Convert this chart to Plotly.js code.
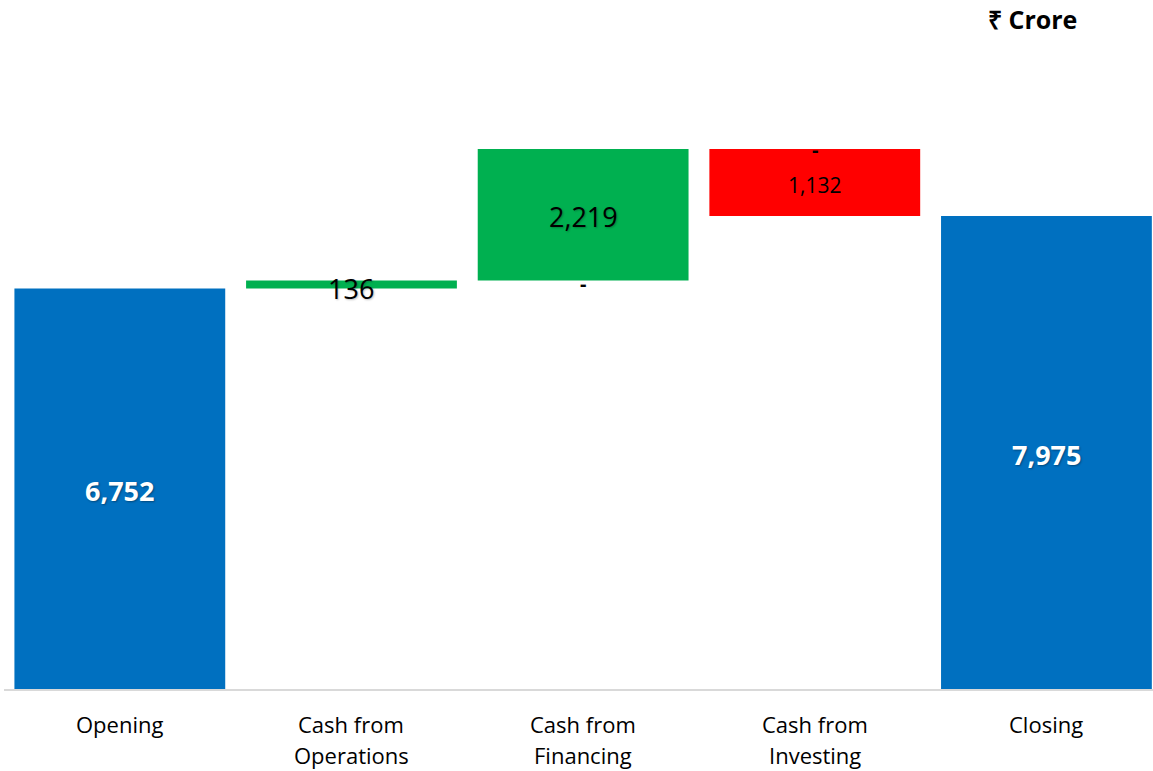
<!DOCTYPE html>
<html>
<head>
<meta charset="utf-8">
<script src="https://cdn.plot.ly/plotly-3.0.1.min.js"></script>
<style>html,body{margin:0;padding:0;background:#fff;}#chart{width:1153px;height:771px;}</style>
</head>
<body>
<div id="chart"></div>
<script>
// Data
const categories = ["Opening", "Cash from<br>Operations", "Cash from<br>Financing", "Cash from<br>Investing", "Closing"];
const values = [6752, 136, 2219, -1132, 7975];
const measures = ["absolute", "relative", "relative", "relative", "total"];
const labels = ["6,752", "136", "2,219", "1,132", "7,975"];
const dashLabels = ["-", "-"];          // zero-value markers shown by the source chart
const dashCategoryIdx = [2, 3];
const unitLabel = "₹ Crore";

// compute bar extents from data
const bottoms = [], tops = [];
let run = 0;
for (let i = 0; i < values.length; i++) {
  let a, b;
  if (measures[i] === "absolute") { a = 0; b = values[i]; run = values[i]; }
  else if (measures[i] === "total") { a = 0; b = run; }
  else { a = run; b = run + values[i]; run = b; }
  bottoms.push(Math.min(a, b)); tops.push(Math.max(a, b));
}

const labelFonts = [
  {family: "Open Sans", size: 27, color: "#ffffff", weight: 700, shadow: "1px 1px 2px rgba(0,0,0,0.35)"},
  {family: "Open Sans", size: 27, color: "#000000", shadow: "1px 1px 2px rgba(0,0,0,0.25)"},
  {family: "Open Sans", size: 27, color: "#000000", shadow: "1px 1px 2px rgba(0,0,0,0.25)"},
  {family: "Open Sans", size: 21, color: "#000000"},
  {family: "Open Sans", size: 27, color: "#ffffff", weight: 700, shadow: "1px 1px 2px rgba(0,0,0,0.35)"}
];

const annotations = labels.map((t, i) => ({
  x: categories[i], y: (bottoms[i] + tops[i]) / 2, xref: "x", yref: "y",
  text: t, showarrow: false, font: labelFonts[i], yshift: (i === 1 ? -4 : -2)
}));
// dash markers: below financing bar bottom, at investing bar top
annotations.push({x: categories[dashCategoryIdx[0]], y: bottoms[dashCategoryIdx[0]], xref: "x", yref: "y",
  text: dashLabels[0], showarrow: false, font: {family: "Open Sans", size: 20, color: "#000", weight: 700}, yshift: -3});
annotations.push({x: categories[dashCategoryIdx[1]], y: tops[dashCategoryIdx[1]], xref: "x", yref: "y",
  text: dashLabels[1], showarrow: false, font: {family: "Open Sans", size: 20, color: "#000", weight: 700}, yshift: -1});
// category labels (each line placed separately to match the source line spacing)
categories.forEach((c) => {
  c.split("<br>").forEach((line, j) => {
    annotations.push({x: c, y: 0, xref: "x", yref: "paper", yanchor: "middle",
      text: line, showarrow: false, yshift: -35 - 31 * j,
      font: {family: "Open Sans", size: 22, color: "#000"}});
  });
});
annotations.push({x: 1, y: 1, xref: "paper", yref: "paper", xanchor: "right", yanchor: "middle",
  text: "<b>" + unitLabel + "</b>", showarrow: false, font: {family: "Open Sans", size: 25, color: "#000"},
  yshift: 40 - 19, xshift: -74});

const trace = {
  type: "waterfall",
  x: categories, y: values, measure: measures,
  increasing: {marker: {color: "#00B050"}},
  decreasing: {marker: {color: "#FF0000"}},
  totals: {marker: {color: "#0070C0"}},
  connector: {visible: false},
  hoverinfo: "none"
};

const layout = {
  width: 1153, height: 771,
  margin: {l: 4, r: 0, t: 40, b: 82},
  paper_bgcolor: "#fff", plot_bgcolor: "#fff",
  showlegend: false,
  waterfallgap: 0.09,
  xaxis: {
    type: "category", range: [-0.5, 4.46],
    showgrid: false, zeroline: false,
    showline: true, linecolor: "#d9d9d9", linewidth: 2,
    ticks: "", showticklabels: false
  },
  yaxis: {
    range: [0, 10944], showgrid: false, zeroline: false, showline: false,
    showticklabels: false, ticks: ""
  },
  annotations: annotations
};

Plotly.newPlot("chart", [trace], layout, {displayModeBar: false, staticPlot: true});
</script>
</body>
</html>
